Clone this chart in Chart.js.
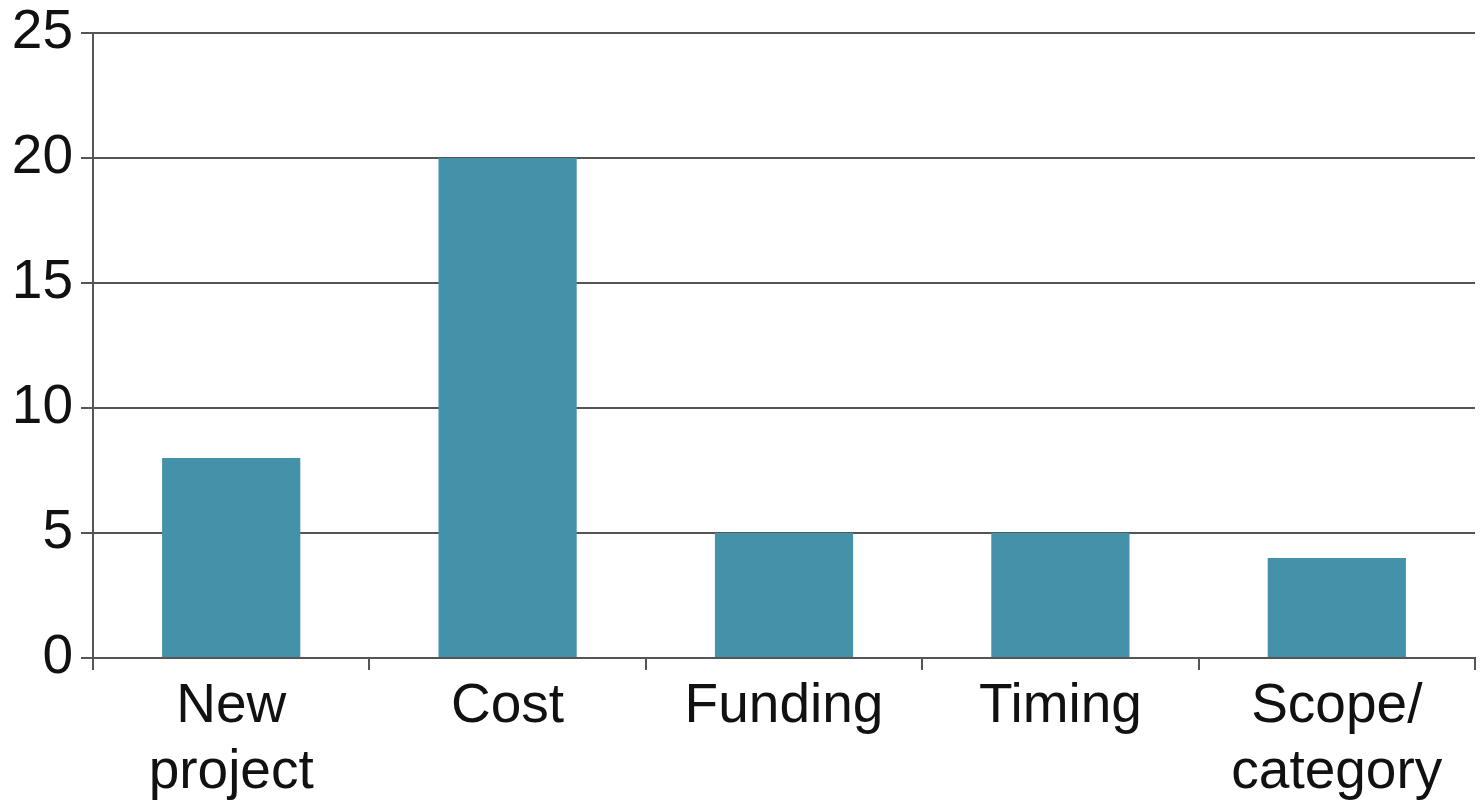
<!DOCTYPE html>
<html>
<head>
<meta charset="utf-8">
<script src="https://cdn.jsdelivr.net/npm/chart.js@4"></script>
<style>
  html, body { margin: 0; padding: 0; background: #fff; }
  #wrap { width: 1483px; height: 806px; position: relative; }
</style>
</head>
<body>
<div id="wrap"><canvas id="issuesChart"></canvas></div>
<script>
// chart data
const categories = [['New', 'project'], 'Cost', 'Funding', 'Timing', ['Scope/', 'category']];
const counts = [8, 20, 5, 5, 4];
const yTicks = [0, 5, 10, 15, 20, 25];

const lineColor = '#555555';

Chart.defaults.font.family = "'Liberation Sans', Arial, sans-serif";
Chart.defaults.color = '#111';

new Chart(document.getElementById('issuesChart'), {
    type: 'bar',
    data: {
        labels: categories,
        datasets: [{
            data: counts,
            backgroundColor: '#4392A9',
            borderWidth: 0,
            barPercentage: 0.5,
            categoryPercentage: 1
        }]
    },
    options: {
        responsive: true,
        maintainAspectRatio: false,
        animation: false,
        layout: { padding: { top: 33, right: 8, left: 0, bottom: 0 } },
        plugins: {
            legend: { display: false },
            tooltip: { enabled: false }
        },
        scales: {
            x: {
                grid: {
                    offset: true,
                    drawOnChartArea: false,
                    drawTicks: true,
                    tickLength: 12,
                    color: lineColor,
                    lineWidth: 2
                },
                border: { display: true, color: lineColor, width: 2 },
                ticks: {
                    font: { size: 55 },
                    padding: 4,
                    maxRotation: 0,
                    autoSkip: false
                },
                afterFit: (scale) => { scale.height = 148; }
            },
            y: {
                min: 0,
                max: 25,
                afterBuildTicks: (scale) => {
                    scale.ticks = yTicks.map(v => ({ value: v }));
                },
                grid: {
                    color: lineColor,
                    lineWidth: 2,
                    tickLength: 12
                },
                border: { display: true, color: lineColor, width: 2 },
                ticks: {
                    font: { size: 55, lineHeight: 0.9 },
                    padding: 8
                },
                afterFit: (scale) => { scale.width = 93; }
            }
        }
    }
});
</script>
</body>
</html>
